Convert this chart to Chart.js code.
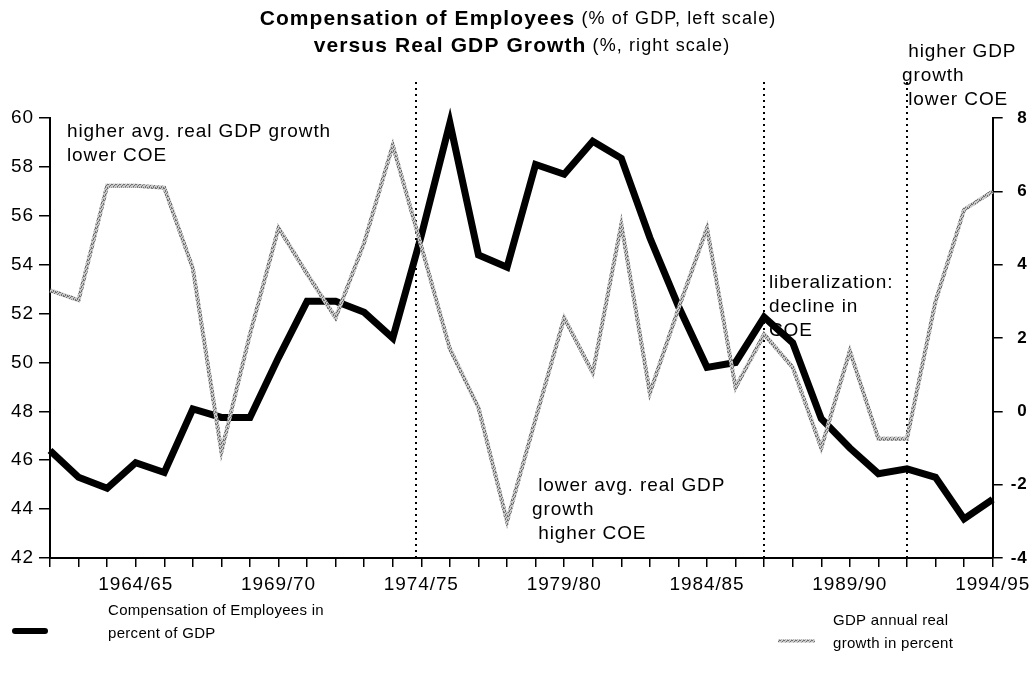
<!DOCTYPE html>
<html><head><meta charset="utf-8">
<script src="https://cdn.jsdelivr.net/npm/chart.js@4.4.1/dist/chart.umd.min.js"></script>
<style>html,body{margin:0;padding:0;background:#fff}#wrap{width:1033px;height:677px}</style>
</head><body><div id="wrap"><canvas id="c" width="1033" height="677"></canvas></div>
<script>
const years = ['1961/62','1962/63','1963/64','1964/65','1965/66','1966/67','1967/68','1968/69','1969/70','1970/71','1971/72','1972/73','1973/74','1974/75','1975/76','1976/77','1977/78','1978/79','1979/80','1980/81','1981/82','1982/83','1983/84','1984/85','1985/86','1986/87','1987/88','1988/89','1989/90','1990/91','1991/92','1992/93','1993/94','1994/95'];
const tickYears = ['1964/65','1969/70','1974/75','1979/80','1984/85','1989/90','1994/95'];
const coeShare = [46.4,45.3,44.85,45.9,45.5,48.1,47.75,47.75,50.2,52.5,52.5,52.05,51.0,55.2,59.8,54.4,53.9,58.1,57.7,59.05,58.35,55.1,52.3,49.8,50.0,51.85,50.8,47.7,46.5,45.45,45.65,45.3,43.6,44.4];
const gdpGrowth = [3.3,3.03,6.15,6.15,6.1,3.9,-1.1,2.1,5.0,3.75,2.55,4.6,7.26,4.5,1.7,0.1,-3.0,-0.2,2.55,1.05,5.1,0.5,2.8,5.0,0.65,2.1,1.2,-1.0,1.65,-0.75,-0.75,3.0,5.5,6.0];
const markerPositions = [12.83, 25, 30];
const titleLine1 = [['Compensation of Employees', true], [' (% of GDP, left scale)', false]];
const titleLine2 = [['versus Real GDP Growth', true], [' (%, right scale)', false]];
const notes = [
  {x: 67, y: 132, lines: ['higher avg. real GDP growth', 'lower COE']},
  {x: 532, y: 486, lines: [' lower avg. real GDP', 'growth', ' higher COE']},
  {x: 769, y: 283, lines: ['liberalization:', 'decline in', 'COE']},
  {x: 902, y: 52, lines: [' higher GDP', 'growth', ' lower COE']}
];
const legendCoe = ['Compensation of Employees in', 'percent of GDP'];
const legendGdp = ['GDP annual real', 'growth in percent'];

const FAM = '"Liberation Sans", Arial, Helvetica, sans-serif';

// speckled grey stroke
const pc = document.createElement('canvas'); pc.width = 4; pc.height = 4;
const pctx = pc.getContext('2d');
pctx.fillStyle = '#c8c8c8'; pctx.fillRect(0,0,4,4);
pctx.fillStyle = '#707070';
[[0,0],[2,1],[1,2],[3,3],[3,0],[1,3]].forEach(p=>pctx.fillRect(p[0],p[1],1,1));
const ctx = document.getElementById('c').getContext('2d');
const grayPattern = ctx.createPattern(pc, 'repeat');

function drawRuns(c, runs, cx, y, bSize, rSize){
  let total = 0;
  const m = runs.map(r=>{ c.font = (r[1]?'bold ':'') + (r[1]?bSize:rSize) + 'px ' + FAM; const w = c.measureText(r[0]).width; total += w; return {t:r[0], f:c.font, w}; });
  let x = cx - total/2;
  m.forEach(r=>{ c.font = r.f; c.fillText(r.t, x, y); x += r.w; });
}

const decor = {
  id: 'decor',
  beforeDraw(chart){ chart.ctx.letterSpacing = '0.9px'; },
  beforeDatasetsDraw(chart){
    const c = chart.ctx, x = chart.scales.x, a = chart.chartArea;
    c.save(); c.strokeStyle = '#000'; c.lineWidth = 2; c.setLineDash([2,4]);
    markerPositions.forEach(v=>{ const px = Math.round(x.getPixelForValue(v)); c.beginPath(); c.moveTo(px, 82); c.lineTo(px, a.bottom); c.stroke(); });
    c.restore();
  },
  afterDraw(chart){
    const c = chart.ctx;
    c.save();
    c.fillStyle = '#000'; c.textBaseline = 'middle'; c.textAlign = 'left';
    c.letterSpacing = '1.1px';
    drawRuns(c, titleLine1, 518, 19, 21, 18);
    drawRuns(c, titleLine2, 522, 46, 21, 18);
    c.letterSpacing = '0.9px';
    c.font = '19px ' + FAM;
    notes.forEach(n=>n.lines.forEach((t,i)=>c.fillText(t, n.x, n.y + i*24)));
    // legend
    c.strokeStyle = '#000'; c.lineWidth = 6; c.lineCap = 'round';
    c.beginPath(); c.moveTo(15, 631); c.lineTo(45, 631); c.stroke();
    c.strokeStyle = grayPattern; c.lineWidth = 3; c.lineCap = 'butt';
    c.beginPath(); c.moveTo(778, 641); c.lineTo(815, 641); c.stroke();
    c.font = '15px ' + FAM; c.letterSpacing = '0.3px';
    legendCoe.forEach((t,i)=>c.fillText(t, 108, 611 + i*23));
    legendGdp.forEach((t,i)=>c.fillText(t, 833, 621 + i*23));
    c.restore();
  }
};

const axisFont = {family: FAM, size: 19};
new Chart(ctx, {
  type: 'line',
  data: {
    labels: years,
    datasets: [
      {label: 'GDP annual real growth in percent', data: gdpGrowth, yAxisID: 'y1', borderColor: grayPattern, borderWidth: 4, pointRadius: 0, tension: 0, order: 0, clip: false, borderJoinStyle: 'miter'},
      {label: 'Compensation of Employees in percent of GDP', data: coeShare, yAxisID: 'y', borderColor: '#000', borderWidth: 7, pointRadius: 0, tension: 0, order: 1, clip: false, borderJoinStyle: 'miter'}
    ]
  },
  options: {
    responsive: false, animation: false, devicePixelRatio: 1,
    layout: {padding: {top: 118, left: 0, right: 5, bottom: 0}},
    plugins: {legend: {display: false}, title: {display: false}, tooltip: {enabled: false}},
    scales: {
      x: {
        type: 'category', offset: false,
        grid: {display: true, drawOnChartArea: false, drawTicks: true, tickLength: 9, color: '#000', lineWidth: 1.5},
        border: {display: true, color: '#000', width: 2},
        ticks: {autoSkip: false, maxRotation: 0, minRotation: 0, padding: 6, color: '#000', font: axisFont,
          callback: function(v, i){ const l = years[i]; return tickYears.includes(l) ? l : ''; }},
        afterFit: s => { s.height = 119; }
      },
      y: {
        position: 'left', min: 42, max: 60,
        grid: {display: true, drawOnChartArea: false, drawTicks: true, tickLength: 11, color: '#000', lineWidth: 1.5},
        border: {display: true, color: '#000', width: 2},
        ticks: {stepSize: 2, padding: 5, color: '#000', font: axisFont},
        afterFit: s => { s.width = 50; }
      },
      y1: {
        position: 'right', min: -4, max: 8,
        grid: {display: true, drawOnChartArea: false, drawTicks: true, tickLength: 10, color: '#000', lineWidth: 1.5},
        border: {display: true, color: '#000', width: 2},
        ticks: {stepSize: 2, padding: 8, crossAlign: 'far', color: '#000', font: {family: FAM, size: 17, weight: 'bold'}},
        afterFit: s => { s.width = 35; }
      }
    }
  },
  plugins: [decor]
});
</script></body></html>
